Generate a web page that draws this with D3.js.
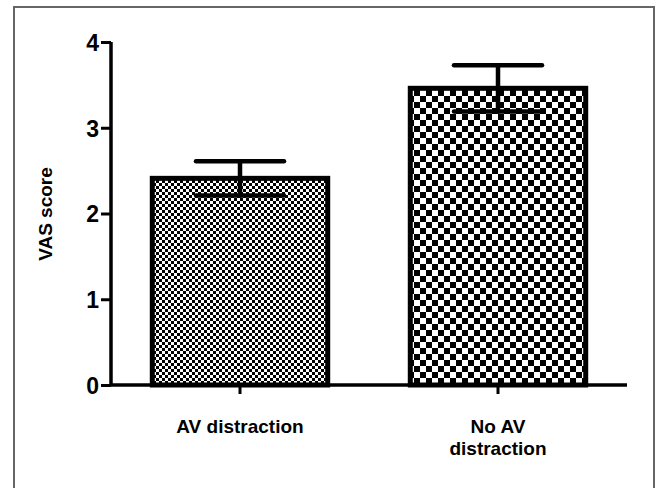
<!DOCTYPE html>
<html><head><meta charset="utf-8">
<script src="https://cdn.jsdelivr.net/npm/d3@7"></script>
<style>body{margin:0;background:#fff}svg{display:block}</style>
</head><body>
<script>
const categories = ["AV distraction", "No AV distraction"];
const labelLines = [["AV distraction"], ["No AV", "distraction"]];
const means = [2.41, 3.46];
const errUpper = [2.61, 3.73];
const errLower = [2.21, 3.19];
const yTicks = [0, 1, 2, 3, 4];
const patternCell = [3, 6];

const W = 658, H = 488;
const FONT = "'Liberation Sans', Arial, sans-serif";
const svg = d3.select("body").append("svg").attr("width", W).attr("height", H);
const defs = svg.append("defs");
patternCell.forEach((c, i) => {
  const p = defs.append("pattern").attr("id", "pat" + i).attr("patternUnits", "userSpaceOnUse")
    .attr("width", 2 * c).attr("height", 2 * c);
  p.append("rect").attr("width", 2 * c).attr("height", 2 * c).attr("fill", "#fff");
  p.append("rect").attr("width", c).attr("height", c).attr("fill", "#000");
  p.append("rect").attr("x", c).attr("y", c).attr("width", c).attr("height", c).attr("fill", "#000");
});

// outer frame
svg.append("rect").attr("x", 14).attr("y", 7).attr("width", 640).attr("height", 500)
  .attr("fill", "none").attr("stroke", "#666").attr("stroke-width", 2);

const x0 = 111, x1 = 627, yTop = 42, yBot = 385;
const x = d3.scaleBand().domain(categories).range([x0, x1]).paddingInner(0.32).paddingOuter(0.16);
const y = d3.scaleLinear().domain([0, 4]).range([yBot, yTop]);

const g = svg.append("g");
g.selectAll("rect.bar").data(categories).join("rect").attr("class", "bar")
  .attr("x", d => x(d)).attr("width", x.bandwidth())
  .attr("y", (d, i) => y(means[i])).attr("height", (d, i) => yBot - y(means[i]))
  .attr("fill", (d, i) => `url(#pat${i})`).attr("stroke", "#000").attr("stroke-width", 5);

const capHalf = 44;
categories.forEach((c, i) => {
  const cx = x(c) + x.bandwidth() / 2;
  const eg = g.append("g").attr("stroke", "#000").attr("stroke-width", 4.5).attr("stroke-linecap", "round");
  eg.append("line").attr("x1", cx).attr("x2", cx).attr("y1", y(errUpper[i])).attr("y2", y(errLower[i]));
  eg.append("line").attr("x1", cx - capHalf).attr("x2", cx + capHalf).attr("y1", y(errUpper[i])).attr("y2", y(errUpper[i]));
  eg.append("line").attr("x1", cx - capHalf).attr("x2", cx + capHalf).attr("y1", y(errLower[i])).attr("y2", y(errLower[i]));
});

const ya = svg.append("g").attr("transform", `translate(${x0},0)`)
  .call(d3.axisLeft(y).tickValues(yTicks).tickFormat(d3.format("d")).tickSize(10).tickPadding(2));
ya.select(".domain").attr("stroke-width", 3.5).attr("d", `M0,${yTop}V${yBot}`);
ya.selectAll(".tick line").attr("stroke-width", 3);
ya.selectAll(".tick text").attr("font-family", FONT)
  .attr("font-weight", "bold").attr("font-size", 23).attr("fill", "#000").attr("dy", "0.36em");

const xa = svg.append("g").attr("transform", `translate(0,${yBot})`)
  .call(d3.axisBottom(x).tickSize(9).tickFormat(""));
xa.select(".domain").attr("stroke-width", 3.5).attr("d", `M${x0},0H${x1}`);
xa.selectAll(".tick line").attr("stroke-width", 3);

categories.forEach((c, i) => {
  const t = svg.append("text").attr("x", x(c) + x.bandwidth() / 2).attr("y", 433)
    .attr("text-anchor", "middle").attr("font-family", FONT)
    .attr("font-weight", "bold").attr("font-size", 19).attr("fill", "#000");
  labelLines[i].forEach((ln, j) => {
    t.append("tspan").attr("x", x(c) + x.bandwidth() / 2).attr("dy", j === 0 ? 0 : 22).text(ln);
  });
});

svg.append("text").attr("transform", "translate(52,214) rotate(-90)")
  .attr("text-anchor", "middle").attr("font-family", FONT)
  .attr("font-weight", "bold").attr("font-size", 19).attr("fill", "#000").text("VAS score");
</script>
</body></html>
